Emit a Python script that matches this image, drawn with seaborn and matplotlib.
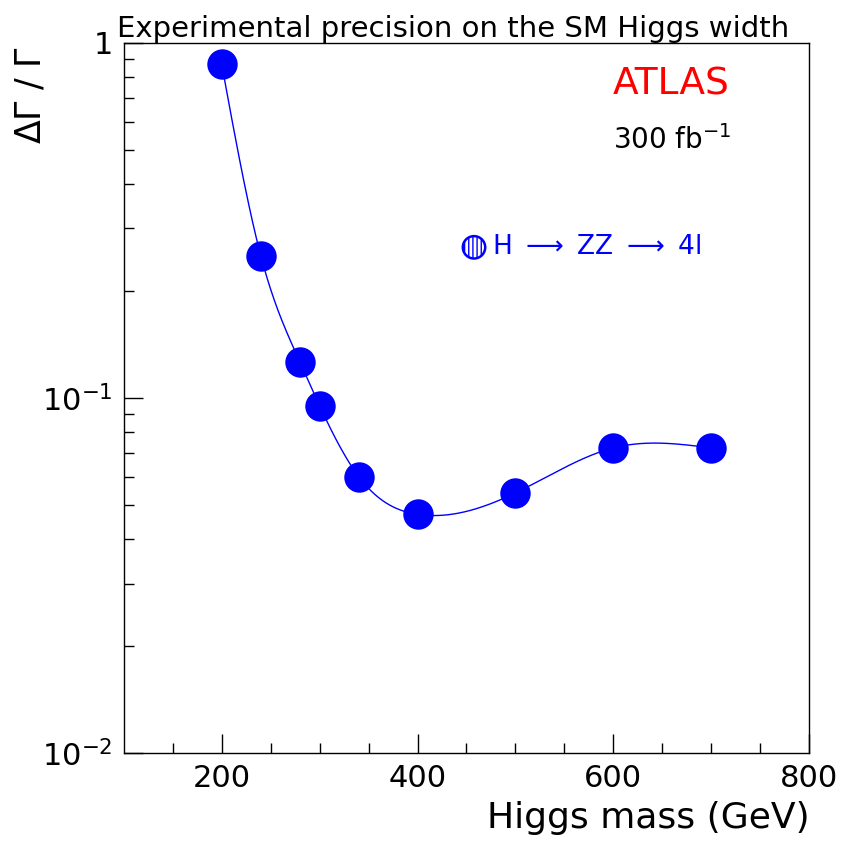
import numpy as np
import pandas as pd
import matplotlib
matplotlib.use("Agg")
import matplotlib.pyplot as plt
import seaborn as sns

# values
mass = [200, 240, 280, 300, 340, 400, 500, 600, 700]
rel_width = [0.87, 0.251, 0.126, 0.095, 0.060, 0.047, 0.054, 0.0723, 0.0723]
title = "Experimental precision on the SM Higgs width"
channel = r"H $\longrightarrow$ ZZ $\longrightarrow$ 4l"


def natural_spline(x, y, xs):
    # natural cubic spline, done by hand with numpy
    x = np.asarray(x, float)
    y = np.asarray(y, float)
    n = len(x)
    h = np.diff(x)
    A = np.zeros((n, n))
    b = np.zeros(n)
    A[0, 0] = A[-1, -1] = 1
    for i in range(1, n - 1):
        A[i, i - 1] = h[i - 1]
        A[i, i] = 2 * (h[i - 1] + h[i])
        A[i, i + 1] = h[i]
        b[i] = 3 * ((y[i + 1] - y[i]) / h[i] - (y[i] - y[i - 1]) / h[i - 1])
    c = np.linalg.solve(A, b)
    out = np.empty_like(xs)
    for k, xv in enumerate(xs):
        i = min(max(np.searchsorted(x, xv) - 1, 0), n - 2)
        dx = xv - x[i]
        bb = (y[i + 1] - y[i]) / h[i] - h[i] * (2 * c[i] + c[i + 1]) / 3
        d = (c[i + 1] - c[i]) / (3 * h[i])
        out[k] = y[i] + bb * dx + c[i] * dx ** 2 + d * dx ** 3
    return out


df = pd.DataFrame({"mass": mass, "width": rel_width})
xs = np.linspace(min(mass), max(mass), 400)
curve = pd.DataFrame({"mass": xs,
                      "width": 10 ** natural_spline(mass, np.log10(rel_width), xs)})

sns.set_style("ticks")
plt.rcParams["font.family"] = ["DejaVu Sans"]
plt.rcParams["mathtext.default"] = "regular"
for key in ["text.color", "axes.labelcolor", "xtick.color", "ytick.color"]:
    plt.rcParams[key] = "black"

fig = plt.figure(figsize=(8.42, 8.42), dpi=100)
ax = fig.add_axes([0.147, 0.1057, 0.814, 0.8435])

sns.lineplot(data=curve, x="mass", y="width", color="blue", lw=1, ax=ax)
sns.scatterplot(data=df, x="mass", y="width", color="blue", s=480,
                edgecolor="blue", linewidth=0, ax=ax, zorder=3)

ax.set_yscale("log")
ax.set_xlim(100, 800)
ax.set_ylim(0.01, 1)

ax.set_xticks([200, 400, 600, 800])
ax.set_xticklabels(["200", "400", "600", "800"])
ax.set_xticks(np.arange(150, 800, 50), minor=True)
ax.set_yticks([0.01, 0.1, 1])
ax.set_yticklabels([r"$10^{-2}$", r"$10^{-1}$", "1"])
ax.set_yticks([m * 10.0 ** e for e in (-2, -1) for m in range(2, 10)], minor=True)
ax.yaxis.set_minor_formatter(matplotlib.ticker.NullFormatter())
ax.tick_params(which="both", direction="in", labelsize=22, width=1)
ax.tick_params(which="major", length=14)
ax.tick_params(which="minor", length=7)
ax.tick_params(axis="x", pad=8)
ax.tick_params(axis="y", pad=8)
for s in ax.spines.values():
    s.set_linewidth(1)
    s.set_color("black")

ax.set_xlabel("Higgs mass (GeV)", loc="right", fontsize=26, labelpad=6)
ax.set_ylabel(r"$\Delta\Gamma$ / $\Gamma$", loc="top", fontsize=25)
ax.yaxis.set_label_coords(-0.112, 0.995)
ax.set_title(title, fontsize=21, pad=2, x=0.48, color="black")

ax.text(0.714, 0.941, "ATLAS", color="red", fontsize=27,
        transform=ax.transAxes, va="center", ha="left")
ax.text(0.714, 0.863, r"300 fb$^{-1}$", color="black", fontsize=20,
        transform=ax.transAxes, va="center", ha="left")
ax.scatter([0.511], [0.712], s=260, facecolor="white", edgecolor="blue",
           hatch="||||", linewidth=1.8, transform=ax.transAxes, zorder=4)
ax.text(0.537, 0.712, channel, color="blue", fontsize=19,
        transform=ax.transAxes, va="center", ha="left")

fig.savefig("out.png", dpi=100)
